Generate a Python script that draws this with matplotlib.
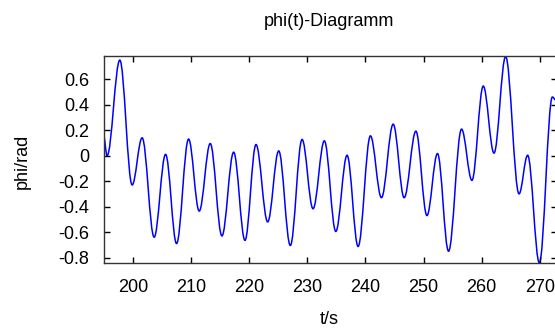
import matplotlib
matplotlib.use("Agg")
import matplotlib.pyplot as plt
from matplotlib.path import Path
from matplotlib.patches import PathPatch

# Extrema of the phi(t) curve (t in s, phi in rad)
t_points = [194.9, 195.52, 197.71, 199.83, 201.55, 203.62, 205.59, 207.48,
            209.55, 211.38, 213.28, 215.29, 217.31, 219.26, 221.16, 223.17,
            225.07, 227.07, 229.09, 230.98, 232.93, 234.90, 236.84, 238.74,
            240.86, 242.76, 244.78, 246.67, 248.69, 250.59, 252.41, 254.31,
            256.55, 258.34, 260.29, 262.14, 264.14, 266.45, 267.93, 269.95,
            272.19, 272.9]
phi_points = [0.16, 0.0, 0.75, -0.23, 0.14, -0.64, 0.01, -0.69,
              0.13, -0.435, 0.095, -0.63, 0.027, -0.665, 0.087, -0.52,
              0.037, -0.705, 0.127, -0.417, 0.116, -0.595, 0.003, -0.713,
              0.155, -0.33, 0.247, -0.33, 0.192, -0.47, 0.016, -0.75,
              0.208, -0.194, 0.546, 0.02, 0.778, -0.30, 0.003, -0.842,
              0.46, 0.43]

x_ticks = [200, 210, 220, 230, 240, 250, 260, 270]
y_ticks = [-0.8, -0.6, -0.4, -0.2, 0.0, 0.2, 0.4, 0.6]
y_tick_labels = ["-0.8", "-0.6", "-0.4", "-0.2", "0", "0.2", "0.4", "0.6"]

title = "phi(t)-Diagramm"
xlabel = "t/s"
ylabel = "phi/rad"

plt.rcParams['font.family'] = ['Liberation Sans', 'DejaVu Sans']

W, H = 555, 331
fig = plt.figure(figsize=(W / 100, H / 100), dpi=100)
left, right, top, bottom = 103.5, 556.5, 56.0, 263.3
ax = fig.add_axes([left / W, 1 - bottom / H, (right - left) / W, (bottom - top) / H])

ax.set_xlim(194.9, 272.9)
ax.set_ylim(-0.845, 0.782)

# smooth curve through the extrema: cubic Bezier segments with flat tangents
k = 0.364
verts = [(t_points[0], phi_points[0])]
codes = [Path.MOVETO]
for i in range(len(t_points) - 1):
    t0, y0 = t_points[i], phi_points[i]
    t1, y1 = t_points[i + 1], phi_points[i + 1]
    dt = t1 - t0
    verts += [(t0 + k * dt, y0), (t1 - k * dt, y1), (t1, y1)]
    codes += [Path.CURVE4] * 3
patch = PathPatch(Path(verts, codes), fill=False, edgecolor=(0, 0, 1),
                  linewidth=1.1, transform=ax.transData)
ax.add_patch(patch)

fs = 13
ax.set_xticks(x_ticks)
ax.set_yticks(y_ticks)
ax.set_yticklabels(y_tick_labels)
ax.tick_params(direction='in', length=4, width=1, top=True, right=True,
               labelsize=fs, colors='black')
ax.tick_params(axis='y', pad=10)
ax.tick_params(axis='x', pad=11)
for s in ax.spines.values():
    s.set_color('#333333')
    s.set_linewidth(1.0)

fig.text(329 / W, 1 - 22 / H, title, ha='center', va='center', fontsize=fs)
fig.text(329 / W, 1 - 320 / H, xlabel, ha='center', va='center', fontsize=fs)
fig.text(22 / W, 1 - 161 / H, ylabel, ha='center', va='center', fontsize=fs,
         rotation=90)

fig.savefig("out.png", dpi=100)
